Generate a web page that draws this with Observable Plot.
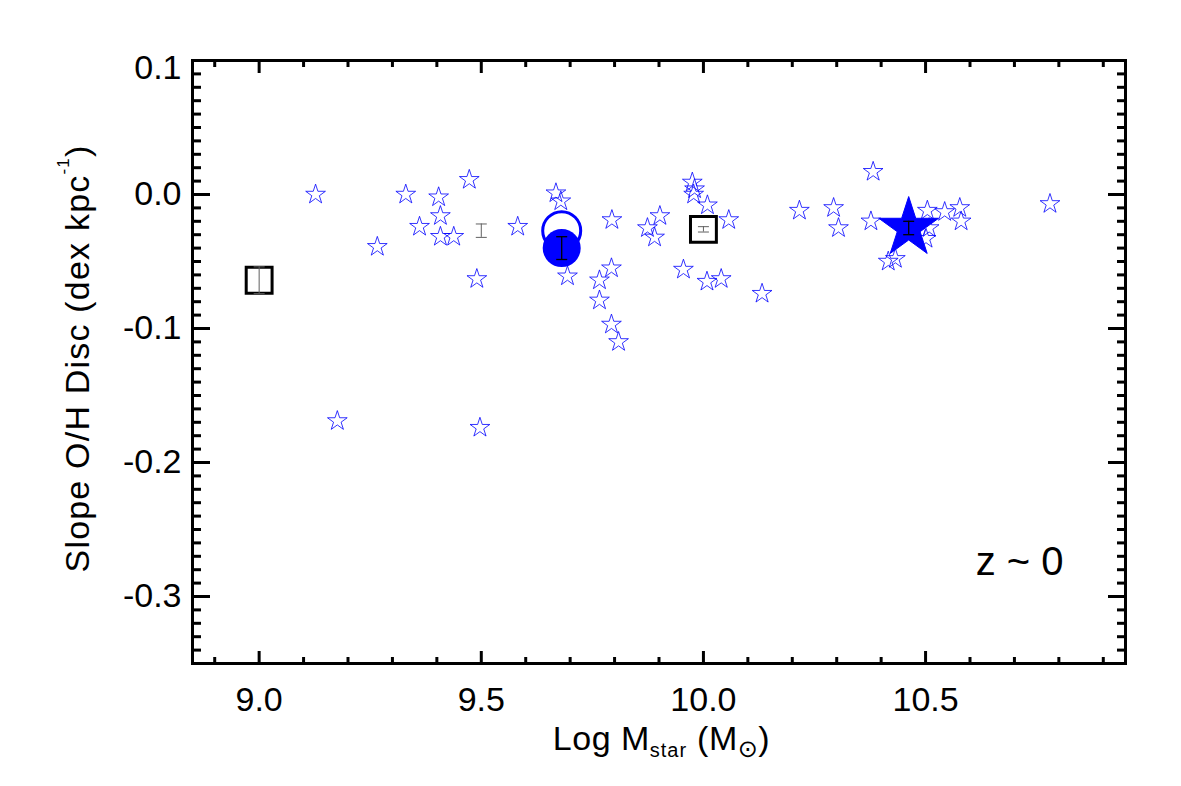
<!DOCTYPE html>
<html>
<head>
<meta charset="utf-8">
<script src="https://cdn.jsdelivr.net/npm/d3@7"></script>
<script src="https://cdn.jsdelivr.net/npm/@observablehq/plot@0.6"></script>
<style>
  html, body { margin: 0; padding: 0; background: #fff; }
</style>
</head>
<body>
<div id="chart"></div>
<script>
// ---- data ----
// small open blue stars: log stellar mass and O/H disc slope
const starMass = [9.127, 9.266, 9.330, 9.404, 9.473, 9.408, 9.361, 9.408, 9.438, 9.582,
  9.490, 9.668, 9.679, 9.694, 9.794, 9.793, 9.766, 9.766, 9.793, 9.809,
  9.902, 9.874, 9.890, 9.975, 9.980, 9.978, 10.009, 10.057, 9.955, 10.008,
  10.040, 10.132, 10.216, 10.382, 10.293, 10.304, 10.377, 10.504, 10.543, 10.577,
  10.580, 10.508, 10.501, 10.416, 10.432, 10.780, 9.176, 9.497];
const starSlope = [0.000, -0.039, 0.000, -0.002, 0.011, -0.016, -0.024, -0.0315, -0.0315, -0.024,
  -0.063, 0.001, -0.005, -0.061, -0.019, -0.055, -0.064, -0.079, -0.097, -0.110,
  -0.016, -0.025, -0.032, 0.009, 0.004, 0.000, -0.008, -0.019, -0.056, -0.065,
  -0.063, -0.074, -0.012, 0.017, -0.010, -0.025, -0.020, -0.012, -0.013, -0.010,
  -0.020, -0.025, -0.033, -0.050, -0.048, -0.007, -0.169, -0.174];

// big filled star
const bigStarMass = [10.462];
const bigStarSlope = [-0.025];
const bigStarErr = [0.005];

// open and filled circles
const openCircleMass = [9.681];
const openCircleSlope = [-0.027];
const filledCircleMass = [9.681];
const filledCircleSlope = [-0.040];
const filledCircleErr = [0.0085];

// open black squares with grey error bars
const squareMass = [9.0, 10.0];
const squareSlope = [-0.064, -0.026];
const squareErr = [0.010, 0.002];

// lone grey error bar
const greyBarMass = [9.5];
const greyBarSlope = [-0.027];
const greyBarErr = [0.005];

// axis ticks
const xMajorTicks = [9.0, 9.5, 10.0, 10.5];
const xMinorTicks = [8.9, 9.1, 9.2, 9.3, 9.4, 9.6, 9.7, 9.8, 9.9, 10.1, 10.2, 10.3, 10.4, 10.6, 10.7, 10.8, 10.9];
const yMajorTicks = [0.1, 0.0, -0.1, -0.2, -0.3];
const yTickLabelsMain = [0.0, -0.1, -0.2, -0.3];
const yTickLabelsTop = [0.1];
const yMinorTicks = d3.range(-35, 11).map(v => v / 100).filter(v => Math.abs(Math.round(v * 100)) % 10 !== 0);

const annotation = ["z ~ 0"];

// ---- tables ----
const stars = starMass.map((m, i) => ({mass: m, slope: starSlope[i]}));
const bigStar = bigStarMass.map((m, i) => ({mass: m, slope: bigStarSlope[i], err: bigStarErr[i]}));
const openCircle = openCircleMass.map((m, i) => ({mass: m, slope: openCircleSlope[i]}));
const filledCircle = filledCircleMass.map((m, i) => ({mass: m, slope: filledCircleSlope[i], err: filledCircleErr[i]}));
const squares = squareMass.map((m, i) => ({mass: m, slope: squareSlope[i], err: squareErr[i]}));
const greyBar = greyBarMass.map((m, i) => ({mass: m, slope: greyBarSlope[i], err: greyBarErr[i]}));

const blackBars = [...filledCircle, ...bigStar];

// horizontal cap symbol for error bars
const cap = { draw(context) { context.moveTo(-5.5, 0); context.lineTo(5.5, 0); } };

function errorBar(data, color, width) {
  return [
    Plot.ruleX(data, {x: "mass", y1: d => d.slope - d.err, y2: d => d.slope + d.err, stroke: color, strokeWidth: width}),
    Plot.dot(data, {x: "mass", y: d => d.slope - d.err, symbol: cap, r: 3, stroke: color, fill: "none", strokeWidth: width}),
    Plot.dot(data, {x: "mass", y: d => d.slope + d.err, symbol: cap, r: 3, stroke: color, fill: "none", strokeWidth: width})
  ];
}

const fmt = d => d.toFixed(1);
const FS = 34;

const plot = Plot.plot({
  width: 1181,
  height: 786,
  marginLeft: 192,
  marginRight: 56,
  marginTop: 60,
  marginBottom: 123,
  x: {domain: [8.85, 10.95]},
  y: {domain: [-0.35, 0.1]},
  style: {
    fontFamily: "'Liberation Sans', Arial, Helvetica, sans-serif",
    fontSize: FS + "px",
    color: "black",
    background: "white",
    overflow: "visible"
  },
  marks: [
    Plot.dot(stars, {x: "mass", y: "slope", symbol: "star", r: 6.2, stroke: "#0000ff", strokeWidth: 0.8, fill: "none"}),
    ...errorBar(greyBar, "#606060", 1),
    Plot.dot(openCircle, {x: "mass", y: "slope", r: 19, stroke: "#0000ff", strokeWidth: 3, fill: "none"}),
    Plot.dot(filledCircle, {x: "mass", y: "slope", r: 19, fill: "#0000ff", stroke: "none"}),
    Plot.dot(bigStar, {x: "mass", y: "slope", symbol: "star", r: 18.8, fill: "#0000ff", stroke: "#0000ff", strokeWidth: 1}),
    ...errorBar(blackBars, "black", 1.3),
    Plot.dot(squares, {x: "mass", y: "slope", symbol: "square", r: 14.6, stroke: "black", strokeWidth: 3, fill: "none"}),
    ...errorBar(squares, "#606060", 1),

    Plot.frame({stroke: "black", strokeWidth: 3}),

    // bottom axis
    Plot.axisX({anchor: "bottom", ticks: xMajorTicks, tickSize: -12, tickPadding: 35, tickFormat: fmt, fontSize: FS, strokeWidth: 3, label: null}),
    Plot.axisX({anchor: "bottom", ticks: xMinorTicks, tickSize: -6, fill: "none", strokeWidth: 3, label: null}),
    // top axis
    Plot.axisX({anchor: "top", ticks: xMajorTicks, tickSize: -12, fill: "none", strokeWidth: 3, label: null}),
    Plot.axisX({anchor: "top", ticks: xMinorTicks, tickSize: -6, fill: "none", strokeWidth: 3, label: null}),
    // left axis
    Plot.axisY({anchor: "left", ticks: yMajorTicks, tickSize: -18, fill: "none", strokeWidth: 3, label: null}),
    Plot.axisY({anchor: "left", ticks: yTickLabelsMain, tickSize: 0, tickPadding: 11, tickFormat: fmt, fontSize: FS, label: null}),
    Plot.axisY({anchor: "left", ticks: yTickLabelsTop, tickSize: 0, tickPadding: 11, tickFormat: fmt, fontSize: FS, dy: 8, label: null}),
    Plot.axisY({anchor: "left", ticks: yMinorTicks, tickSize: -9, fill: "none", strokeWidth: 3, label: null}),
    // right axis
    Plot.axisY({anchor: "right", ticks: yMajorTicks, tickSize: -18, fill: "none", strokeWidth: 3, label: null}),
    Plot.axisY({anchor: "right", ticks: yMinorTicks, tickSize: -9, fill: "none", strokeWidth: 3, label: null}),

    Plot.text(annotation, {text: d => d, frameAnchor: "bottom-right", dx: -62, dy: -89, textAnchor: "end", lineAnchor: "bottom", fontSize: 40, letterSpacing: 3, fill: "black"})
  ]
});

document.getElementById("chart").appendChild(plot);

// axis titles with sub/superscripts
const svg = d3.select(plot);
const [xr0, xr1] = plot.scale("x").range;
const [yr0, yr1] = plot.scale("y").range;
const cx = (xr0 + xr1) / 2 + 3;
const cy = (yr0 + yr1) / 2 - 3;

const xt = svg.append("text")
  .attr("x", cx).attr("y", 750)
  .attr("text-anchor", "middle")
  .attr("font-size", FS)
  .attr("letter-spacing", 0.5)
  .attr("fill", "black");
xt.append("tspan").text("Log M");
xt.append("tspan").attr("font-size", 20).attr("dy", 7).attr("letter-spacing", 1).text("star");
xt.append("tspan").attr("dy", -7).text(" (M");
xt.append("tspan").attr("font-size", 24).attr("dy", 7).attr("font-family", "DejaVu Sans").text("\u2299");
xt.append("tspan").attr("dy", -7).text(")");

const yt = svg.append("text")
  .attr("transform", `translate(89,${cy}) rotate(-90)`)
  .attr("text-anchor", "middle")
  .attr("font-size", FS)
  .attr("letter-spacing", 1.2)
  .attr("fill", "black");
yt.append("tspan").text("Slope O/H Disc (dex kpc");
yt.append("tspan").attr("font-size", 17).attr("dy", -20).text("-1");
yt.append("tspan").attr("dy", 20).text(")");
</script>
</body>
</html>
